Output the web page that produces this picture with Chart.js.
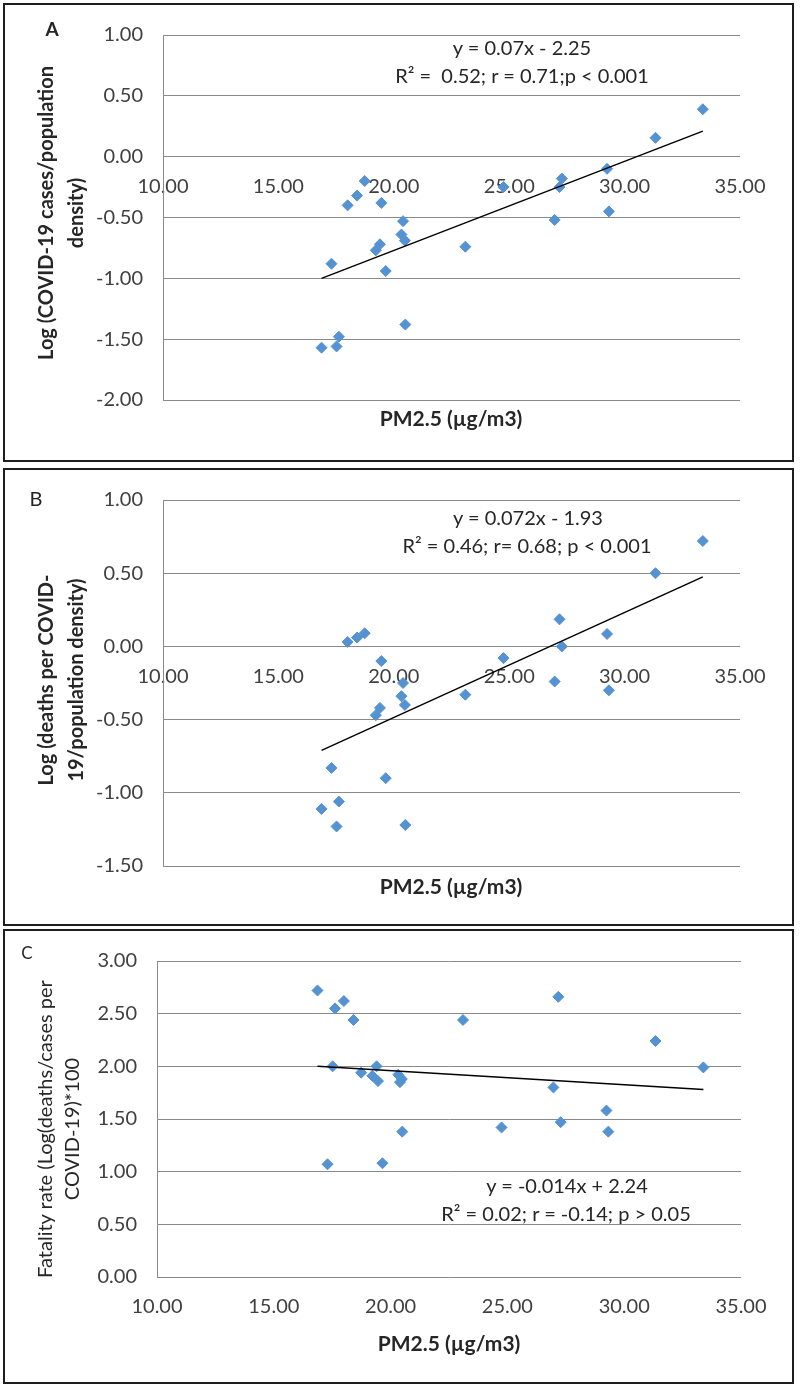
<!DOCTYPE html>
<html>
<head>
<meta charset="utf-8">
<script src="https://cdn.jsdelivr.net/npm/chart.js@4.4.1/dist/chart.umd.min.js"></script>
<style>
  html, body { margin: 0; padding: 0; background: #fff; }
  #page { position: relative; width: 800px; height: 1385px; font-family: Lato, 'Open Sans', sans-serif; color: #262626; }
  .panel { position: absolute; left: 3px; width: 791px; border: 2px solid #1e1e1e; box-sizing: border-box; }
  .plot { position: absolute; left: 0; width: 800px; }
  .txt { position: absolute; white-space: pre; transform: translate(-50%, -50%); line-height: 1; font-size: 20px; }
  .xtitle { font-weight: bold; font-size: 21px; }
  .ytitle { position: absolute; white-space: pre; text-align: center; font-size: 20px; transform: translate(-50%, -50%) rotate(-90deg); }
</style>
</head>
<body>
<div id="page">
  <div class="panel" style="top:3px;height:459px;"></div>
  <div class="panel" style="top:468px;height:458px;"></div>
  <div class="panel" style="top:929px;height:455px;"></div>

  <div class="plot" style="top:3px;height:458px;"><canvas id="chartA"></canvas></div>
  <div class="plot" style="top:468px;height:457px;"><canvas id="chartB"></canvas></div>
  <div class="plot" style="top:929px;height:454px;"><canvas id="chartC"></canvas></div>

  <!-- panel A text -->
  <div class="txt" style="left:52px;top:28px;font-weight:bold;font-size:19px;">A</div>
  <div class="ytitle" style="left:60px;top:213px;line-height:30px;font-weight:bold;">Log (COVID-19 cases/population
density)</div>
  <div class="txt" style="left:522px;top:47px;">y = 0.07x - 2.25</div>
  <div class="txt" style="left:522px;top:75px;">R² =  0.52; r = 0.71;p &lt; 0.001</div>
  <div class="txt xtitle" style="left:451px;top:417px;">PM2.5 (µg/m3)</div>

  <!-- panel B text -->
  <div class="txt" style="left:36px;top:498px;font-size:20px;">B</div>
  <div class="ytitle" style="left:60px;top:680px;line-height:30px;font-weight:bold;">Log (deaths per COVID-
19/population density)</div>
  <div class="txt" style="left:528px;top:517px;">y = 0.072x - 1.93</div>
  <div class="txt" style="left:527px;top:545px;">R² = 0.46; r= 0.68; p &lt; 0.001</div>
  <div class="txt xtitle" style="left:451px;top:885px;">PM2.5 (µg/m3)</div>

  <!-- panel C text -->
  <div class="txt" style="left:27px;top:952px;font-size:17px;">C</div>
  <div class="ytitle" style="left:58px;top:1129px;line-height:27px;">Fatality rate (Log(deaths/cases per
COVID-19)*100</div>
  <div class="txt" style="left:567px;top:1185px;">y = -0.014x + 2.24</div>
  <div class="txt" style="left:566px;top:1213px;">R² = 0.02; r = -0.14; p &gt; 0.05</div>
  <div class="txt xtitle" style="left:449px;top:1342px;">PM2.5 (µg/m3)</div>
</div>

<script>
// ─── DATA (one entry per area, sorted by PM2.5) ───────────────
const pm25 = [16.87, 17.30, 17.52, 17.62, 18.00, 18.41, 18.74, 19.22, 19.40, 19.46, 19.65, 20.33,
              20.40, 20.48, 20.50, 23.10, 24.75, 26.97, 27.18, 27.28, 29.24, 29.32, 31.34, 33.39];

// A — Log(COVID-19 cases / population density)
const casesLog = [-1.57, -0.88, -1.56, -1.48, -0.40, -0.32, -0.20, -0.77, -0.72, -0.38, -0.94, -0.64,
                  -0.53, -0.69, -1.38, -0.74, -0.25, -0.52, -0.25, -0.18, -0.10, -0.45, 0.155, 0.39];

// B — Log(deaths per COVID-19 / population density)
const deathsLog = [-1.11, -0.83, -1.23, -1.06, 0.03, 0.06, 0.09, -0.47, -0.42, -0.10, -0.90, -0.34,
                   -0.25, -0.40, -1.22, -0.33, -0.08, -0.24, 0.185, 0.00, 0.085, -0.30, 0.50, 0.72];

// C — Fatality rate (Log(deaths/cases per COVID-19)*100)
const fatality = [2.72, 1.07, 2.00, 2.55, 2.62, 2.44, 1.94, 1.91, 2.00, 1.86, 1.08, 1.92,
                  1.85, 1.88, 1.38, 2.44, 1.42, 1.80, 2.66, 1.47, 1.58, 1.38, 2.24, 1.99];

// trendline end points
const trendX = [16.87, 33.39];
const trendA = [-1.00, 0.21];
const trendB = [-0.71, 0.475];
const trendC = [2.00, 1.78];

// axis ticks
const xTicks = [10, 15, 20, 25, 30, 35];
const yTicksA = [-2, -1.5, -1, -0.5, 0, 0.5, 1];
const yTicksB = [-1.5, -1, -0.5, 0, 0.5, 1];
const yTicksC = [0, 0.5, 1, 1.5, 2, 2.5, 3];

// ─── STYLE ───────────────────────────────────────────────────
const BLUE = '#5592d2';
const GRID = '#8a8a8a';
const TICK = '#404040';
const FONT = { family: 'Lato, "Open Sans", sans-serif', size: 20 };

const fmt = v => (Math.abs(v) < 1e-9 ? 0 : v).toFixed(2);
const pts = (xs, ys) => xs.map((x, i) => ({ x: x, y: ys[i] }));

function makePanel(id, yVals, trendY, yTicks, o) {
    new Chart(document.getElementById(id), {
        type: 'scatter',
        data: {
            datasets: [
                {
                    data: pts(trendX, trendY),
                    showLine: true,
                    borderColor: '#000',
                    borderWidth: 1.5,
                    pointRadius: 0
                },
                {
                    data: pts(pm25, yVals),
                    pointStyle: 'rectRot',
                    pointRadius: 5.5,
                    backgroundColor: BLUE,
                    borderColor: BLUE,
                    borderWidth: 1
                }
            ]
        },
        options: {
            responsive: true,
            maintainAspectRatio: false,
            animation: false,
            layout: { padding: { top: o.top, bottom: o.bottom, left: 0, right: o.right } },
            plugins: { legend: { display: false }, tooltip: { enabled: false } },
            scales: {
                x: {
                    type: 'linear',
                    min: 10, max: 35,
                    position: { y: o.cross },
                    afterBuildTicks: s => { s.ticks = xTicks.map(v => ({ value: v })); },
                    ticks: { callback: fmt, color: TICK, font: FONT, padding: 18, maxRotation: 0 },
                    grid: { display: false, drawTicks: false },
                    border: { display: false }
                },
                y: {
                    min: yTicks[0], max: yTicks[yTicks.length - 1],
                    afterBuildTicks: s => { s.ticks = yTicks.map(v => ({ value: v })); },
                    afterFit: s => { s.width = o.axisW; },
                    ticks: { callback: fmt, color: TICK, font: FONT, padding: o.axisW - o.labelRight },
                    grid: { color: GRID, lineWidth: 1, drawTicks: false },
                    border: { display: true, color: GRID, width: 1 }
                }
            }
        }
    });
}

// ─── INIT ─────────────────────────────────────────────────────
makePanel('chartA', casesLog,  trendA, yTicksA, { top: 23, bottom: 61, right: 60, axisW: 163, labelRight: 143, cross: 0 });
makePanel('chartB', deathsLog, trendB, yTicksB, { top: 25, bottom: 59, right: 60, axisW: 163, labelRight: 143, cross: 0 });
makePanel('chartC', fatality,  trendC, yTicksC, { top: 25, bottom: 106, right: 59, axisW: 157, labelRight: 137, cross: 0 });
</script>
</body>
</html>
